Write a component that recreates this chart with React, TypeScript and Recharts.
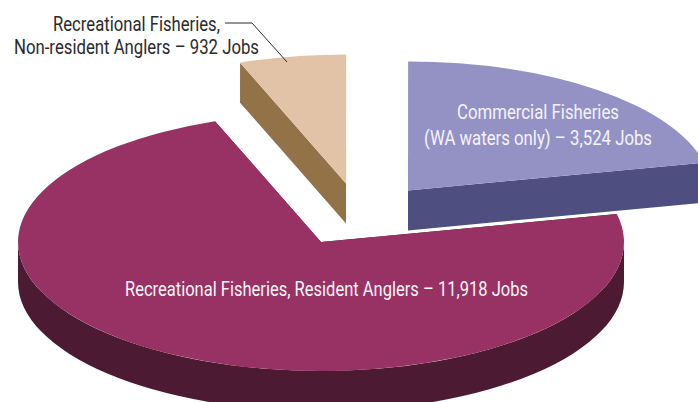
import { Pie, PieChart } from "recharts";

const categories = ["Commercial", "RecreationalNonResident", "RecreationalResident"];
const jobs = [3524, 932, 11918];
const labelLines = [
  ["Commercial Fisheries", "(WA waters only) – 3,524 Jobs"],
  ["Recreational Fisheries,", "Non-resident Anglers – 932 Jobs"],
  ["Recreational Fisheries, Resident Anglers – 11,918 Jobs"],
];

const data = categories.map((name, i) => ({ name, jobs: jobs[i] }));

// disc projection
const CX = 321;
const CY = 242;
const RADIUS = 303;
const TILT = 129 / 303;
const DEPTH = 40;

// how far each wedge is pulled out of the disc
const explode = [
  { dx: 87, dy: -51.5 },
  { dx: 25, dy: -58.5 },
  { dx: 0, dy: 0 },
];
const topColors = ["#9492c4", "#e2c3a7", "#983264"];
const wallColors = ["#4e4e80", "#947248", "#4c1a32"];

const labelStyle = [
  { fill: "#f4f3fa", lines: [{ x: 457, y: 119, w: 162 }, { x: 424, y: 145, w: 228 }] },
  { fill: "#2a2a2c", lines: [{ x: 53, y: 31, w: 167 }, { x: 14, y: 54, w: 245 }] },
  { fill: "#fbf4f7", lines: [{ x: 125, y: 296, w: 403 }] },
];

const rad = (deg: number) => (deg * Math.PI) / 180;

function WedgeShape(props: any) {
  const { startAngle, endAngle, outerRadius, index } = props;
  const { dx, dy } = explode[index];
  const cx = props.cx + dx;
  const cy = props.cy + dy;
  const rx = outerRadius;
  const ry = outerRadius * TILT;
  const px = (a: number) => cx + rx * Math.cos(rad(a));
  const py = (a: number) => cy - ry * Math.sin(rad(a));

  const large = endAngle - startAngle > 180 ? 1 : 0;
  const top = `M${cx},${cy} L${px(startAngle)},${py(startAngle)} A${rx},${ry} 0 ${large} 0 ${px(endAngle)},${py(endAngle)} Z`;

  // cut faces, hidden ones end up under the top face
  const radial = (a: number) =>
    `M${cx},${cy} L${px(a)},${py(a)} L${px(a)},${py(a) + DEPTH} L${cx},${cy + DEPTH} Z`;

  // rim, only the front half of the disc can be seen
  const from = Math.max(startAngle, 180);
  const to = Math.min(endAngle, 360);
  const rim =
    to > from
      ? `M${px(from)},${py(from)} A${rx},${ry} 0 0 0 ${px(to)},${py(to)} L${px(to)},${py(to) + DEPTH} A${rx},${ry} 0 0 1 ${px(from)},${py(from) + DEPTH} Z`
      : null;

  const wall = wallColors[index];
  return (
    <g>
      <path d={radial(startAngle)} fill={wall} />
      <path d={radial(endAngle)} fill={wall} />
      {rim && <path d={rim} fill={wall} />}
      <path d={top} fill={topColors[index]} />
    </g>
  );
}

function WedgeLabel({ index }: any) {
  const style = labelStyle[index];
  return (
    <g>
      {labelLines[index].map((line, i) => {
        const pos = style.lines[i];
        return (
          <text
            key={i}
            x={pos.x}
            y={pos.y}
            fill={style.fill}
            fontFamily="Roboto, 'Open Sans', sans-serif"
            fontSize={20.5}
            textLength={pos.w}
            lengthAdjust="spacingAndGlyphs"
          >
            {line}
          </text>
        );
      })}
      {index === 1 && (
        <polyline points="225,23 252,23 287,62" fill="none" stroke="#2a2a2c" strokeWidth={1} />
      )}
    </g>
  );
}

export default function App() {
  return (
    <div style={{ position: "absolute", left: 0, top: 0, width: 698, height: 402, overflow: "hidden", background: "#fff" }}>
      <PieChart width={698} height={402} margin={{ top: 0, right: 0, bottom: 0, left: 0 }}>
        <Pie
          data={data}
          dataKey="jobs"
          nameKey="name"
          cx={CX}
          cy={CY}
          innerRadius={0}
          outerRadius={RADIUS}
          startAngle={12.5}
          endAngle={372.5}
          stroke="none"
          shape={WedgeShape}
          label={WedgeLabel}
          labelLine={false}
          isAnimationActive={false}
        />
      </PieChart>
    </div>
  );
}
